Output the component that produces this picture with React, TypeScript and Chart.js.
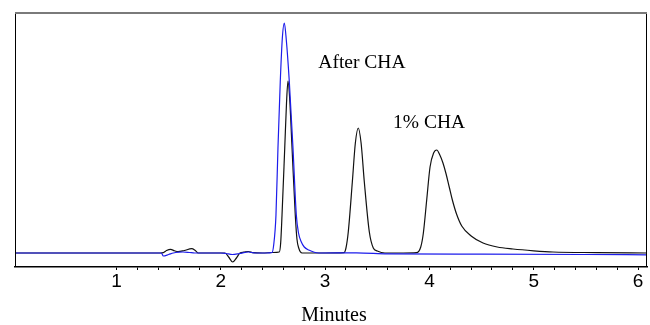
import { useEffect, useRef } from 'react';
import { Chart, registerables } from 'chart.js';

Chart.register(...registerables);

// Retention time (minutes) and detector signal
const blackTime = [
  0.027, 1.0, 1.42, 1.449, 1.48, 1.519, 1.555, 1.59, 1.65, 1.721, 1.755, 1.784, 1.9,
  2.04, 2.075, 2.114, 2.15, 2.184, 2.22, 2.264, 2.31, 2.4, 2.5,
  2.561, 2.574, 2.587, 2.613, 2.63, 2.644, 2.66, 2.683, 2.714, 2.73, 2.747, 2.779,
  3.0, 3.181, 3.2, 3.222, 3.261, 3.29, 3.318, 3.345, 3.376, 3.424, 3.462, 3.5, 3.574,
  3.75, 3.875, 3.917, 3.942, 3.974, 4.006, 4.04, 4.07, 4.1, 4.13, 4.16, 4.19, 4.22, 4.26,
  4.31, 4.4, 4.514, 4.65, 4.801, 5.0, 5.185, 5.6, 6.086,
];
const blackSignal = [
  0, 0, 0, 0.3, 2.5, 3.7, 2.2, 1.3, 2.5, 4.3, 2.5, 0, 0,
  0, -4, -9, -5, 0, 0.8, 1.5, 0.3, 0, 0.5,
  1, 10, 38, 105, 150, 172, 155, 105, 38, 14, 5, 0,
  0, 0.3, 5, 21, 71, 110, 125, 110, 71, 21, 5, 2, 0,
  0, 0.3, 6, 20, 53, 86, 100, 103, 98, 90, 79, 66, 53, 39,
  27, 17, 10, 6, 4, 2.2, 1, 0.4, 0,
];

const blueTime = [
  0.027, 1.0, 1.43, 1.449, 1.5, 1.545, 1.6, 1.637, 1.7, 1.75, 2.0, 2.05, 2.11, 2.18,
  2.264, 2.33, 2.44, 2.491, 2.507, 2.529, 2.548, 2.57, 2.59, 2.609, 2.628, 2.657, 2.692,
  2.724, 2.745, 2.772, 2.8, 2.843, 2.939, 3.3, 3.6, 4.5, 5.5, 6.086,
];
const blueSignal = [
  0, 0, 0, -3, -1.5, 0, 0.8, 1, 0.5, 0, 0, -0.5, -1.5, -0.5,
  1, 0, 0, 0.5, 8, 38, 105, 171, 215, 230, 213, 171, 105,
  38, 20, 11, 6, 3, 0, 0.2, -0.8, -1.2, -1.5, -1.8,
];

const tickLabels = ['1', '2', '3', '4', '5', '6'];
const annotations = [
  { text: 'After CHA', x: 2.935, y: 184.7 },
  { text: '1% CHA', x: 3.651, y: 124.7 },
];
const axisTitle = 'Minutes';
const xMin = 0.027;
const xMax = 6.086;
const yMin = -14;
const yMax = 240;

export default function App() {
  const ref = useRef<HTMLCanvasElement>(null);

  useEffect(() => {
    document.body.style.margin = '0';
    const canvas = ref.current;
    if (!canvas) return;

    const framePlugin = {
      id: 'frame',
      afterDatasetsDraw(chart: any) {
        const { ctx, chartArea: a, scales } = chart;
        ctx.save();
        ctx.strokeStyle = '#000';
        ctx.lineWidth = 1;
        ctx.beginPath();
        ctx.moveTo(a.left + 0.5, a.top);
        ctx.lineTo(a.left + 0.5, a.bottom);
        ctx.stroke();
        ctx.beginPath();
        ctx.moveTo(a.right - 0.5, a.top);
        ctx.lineTo(a.right - 0.5, a.bottom);
        ctx.stroke();
        ctx.strokeStyle = '#7a7a7a';
        ctx.lineWidth = 2;
        ctx.beginPath();
        ctx.moveTo(a.left, a.top);
        ctx.lineTo(a.right, a.top);
        ctx.stroke();

        ctx.fillStyle = '#000';
        ctx.font = '19.5px "Liberation Serif", "Times New Roman", serif';
        ctx.textAlign = 'left';
        ctx.textBaseline = 'alphabetic';
        for (const an of annotations) {
          ctx.fillText(an.text, scales.x.getPixelForValue(an.x), scales.y.getPixelForValue(an.y));
        }
        ctx.font = '20px "Liberation Serif", "Times New Roman", serif';
        ctx.textAlign = 'center';
        ctx.fillText(axisTitle, (a.left + a.right) / 2 + 3, chart.height - 4);
        ctx.restore();
      },
    };

    const chart = new Chart(canvas, {
      type: 'line',
      data: {
        datasets: [
          {
            label: 'Blue',
            data: blueTime.map((t, i) => ({ x: t, y: blueSignal[i] })),
            borderColor: 'rgb(28,28,235)',
            borderWidth: 1.2,
            pointRadius: 0,
            fill: false,
            cubicInterpolationMode: 'monotone',
          },
          {
            label: 'Black',
            data: blackTime.map((t, i) => ({ x: t, y: blackSignal[i] })),
            borderColor: '#111',
            borderWidth: 1.2,
            pointRadius: 0,
            fill: false,
            cubicInterpolationMode: 'monotone',
          },
        ],
      },
      options: {
        animation: false,
        responsive: false,
        devicePixelRatio: 1,
        layout: { padding: { left: 15, top: 13, right: 3, bottom: 0 } },
        plugins: { legend: { display: false }, tooltip: { enabled: false } },
        scales: {
          x: {
            type: 'linear',
            min: xMin,
            max: xMax,
            afterFit: (s: any) => {
              s.height = 58;
            },
            border: { display: true, color: '#000', width: 1.5 },
            grid: {
              display: true,
              drawOnChartArea: false,
              drawTicks: true,
              tickLength: 3,
              lineWidth: 1,
              color: (c: any) => (c.tick && c.tick.value >= 0.99 ? '#000' : 'rgba(0,0,0,0)'),
            },
            ticks: {
              stepSize: 0.2,
              includeBounds: false,
              autoSkip: false,
              maxRotation: 0,
              padding: 0,
              color: '#000',
              font: { family: '"Liberation Sans", Arial, sans-serif', size: 19 },
              callback: (v: any) => {
                const n = Number(v);
                const found = tickLabels.find((l) => Math.abs(Number(l) - n) < 1e-6);
                return found ?? '';
              },
            },
          },
          y: {
            type: 'linear',
            display: false,
            min: yMin,
            max: yMax,
          },
        },
      },
      plugins: [framePlugin],
    });

    return () => chart.destroy();
  }, []);

  return (
    <div style={{ width: 650, height: 325, position: 'relative' }}>
      <canvas ref={ref} width={650} height={325} style={{ display: 'block' }} />
    </div>
  );
}
